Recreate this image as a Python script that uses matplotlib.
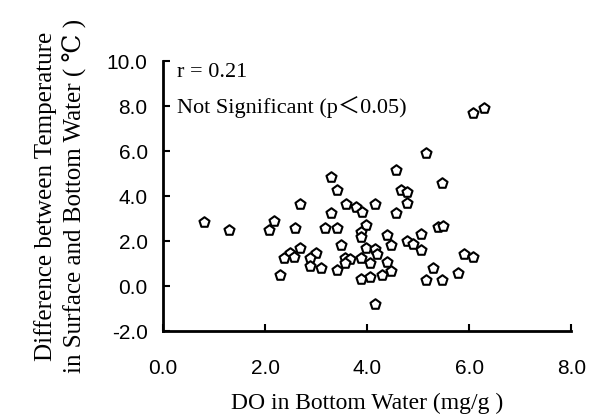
import numpy as np
import matplotlib
matplotlib.use('Agg')
import matplotlib.pyplot as plt

# DO in bottom water (mg/g) vs surface-bottom temperature difference (C)
do_bottom = [0.80, 1.30, 2.08, 2.18, 2.58, 2.68, 3.30, 3.40, 3.58, 3.30, 3.79,
             3.89, 3.18, 3.40, 3.98, 3.88, 3.88, 3.48, 2.68, 2.48, 2.38, 2.57,
             2.99, 2.89, 2.89, 3.09, 3.40, 3.57, 3.66, 3.57, 3.88, 3.98, 4.05,
             3.88, 4.05, 2.30, 4.16, 4.38, 4.15, 4.19, 4.38, 4.30, 4.16, 4.47,
             4.47, 4.57, 5.39, 5.49, 4.78, 4.89, 5.06, 5.06, 5.29, 5.16, 5.47,
             5.79, 5.90, 6.07, 5.16, 4.57, 5.47, 4.67, 4.79, 4.79, 6.07, 6.29]
temp_diff = [2.83, 2.49, 2.49, 2.90, 2.58, 3.64, 4.86, 4.25, 3.64, 3.23, 3.50,
             3.29, 2.58, 2.58, 2.70, 2.41, 2.18, 1.81, 1.67, 1.48, 1.23, 1.27,
             1.48, 1.23, 0.89, 0.81, 0.70, 1.23, 1.20, 1.01, 1.23, 1.67, 1.01,
             0.30, 0.40, 0.49, 3.66, 2.27, 1.64, 1.42, 1.07, 0.49, -0.80, 1.82,
             0.68, 3.26, 2.64, 2.69, 2.02, 1.87, 2.31, 1.60, 0.81, 0.27, 0.27,
             0.60, 1.41, 1.28, 5.90, 5.16, 4.56, 4.27, 4.16, 3.69, 7.70, 7.90]

x_ticks = [0, 2, 4, 6, 8]
y_ticks = [-2, 0, 2, 4, 6, 8, 10]

serif = ['Liberation Serif', 'DejaVu Serif', 'Noto Sans CJK SC']
sans = ['Liberation Sans', 'DejaVu Sans']

fig = plt.figure(figsize=(5.96, 4.18), dpi=100)
ax = fig.add_axes([0.2735, 0.208, 0.685, 0.646])

ax.scatter(do_bottom, temp_diff, marker='p', s=58, facecolor='white',
           edgecolor='black', linewidth=1.5, zorder=3)

ax.set_xlim(0, 8)
ax.set_ylim(-2, 10)
ax.set_xticks(x_ticks)
ax.set_yticks(y_ticks)
ax.set_xticklabels(['%.1f' % v for v in x_ticks], family=sans, fontsize=15)
ax.set_yticklabels(['%.1f' % v for v in y_ticks], family=sans, fontsize=15)
ax.tick_params(axis='x', direction='in', length=5, width=1.5, pad=20)
ax.tick_params(axis='y', direction='in', length=5, width=1.5, pad=11)

for side in ['top', 'right']:
    ax.spines[side].set_visible(False)
ax.spines['left'].set_linewidth(2)
ax.spines['bottom'].set_linewidth(2)

ax.set_xlabel('DO in Bottom Water (mg/g )', family=serif, fontsize=17, labelpad=11)
ax.set_ylabel('Difference between Temperature\nin Surface and Bottom Water ( ℃ )',
              family=serif, fontsize=18, linespacing=1.35, labelpad=14)

ax.text(0.28, 9.47, 'r = 0.21', family=serif, fontsize=16, va='center')
ax.text(0.28, 7.96, 'Not Significant (p＜0.05)', family=serif, fontsize=16,
        va='center')

fig.savefig('out.png', dpi=100)
